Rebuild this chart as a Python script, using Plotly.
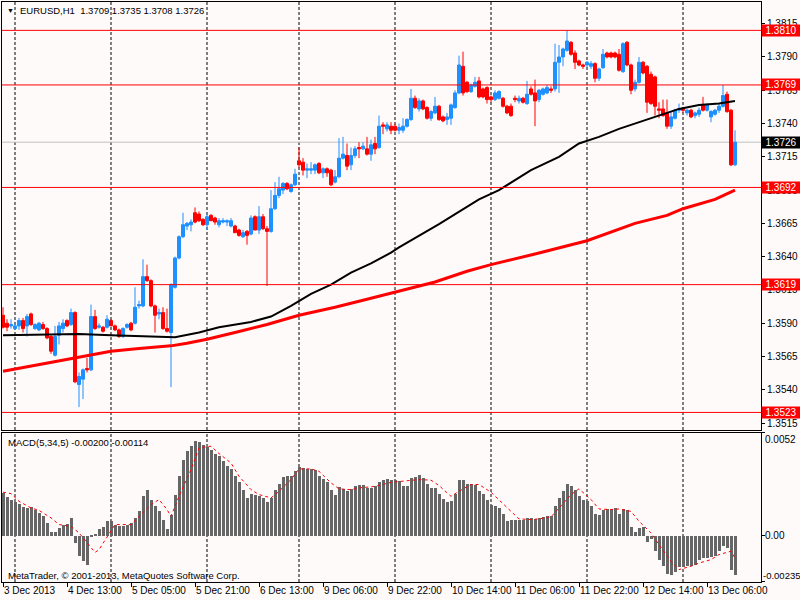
import plotly.graph_objects as go

# EURUSD H1, 3 Dec 2013 21:00 .. 13 Dec 2013 13:00 (bar index 0..183)
opens = [
    1.3596, 1.3590, 1.3588, 1.3586, 1.3588, 1.3592, 1.3588, 1.3597, 1.3586, 1.3585,
    1.3589, 1.3586, 1.3580, 1.3566, 1.3581, 1.3586, 1.3592, 1.3589, 1.3598, 1.3544,
    1.3548, 1.3556, 1.3555, 1.3595, 1.3587, 1.3587, 1.3587, 1.3592, 1.3588, 1.3585,
    1.3580, 1.3587, 1.3590, 1.3590, 1.3603, 1.3603, 1.3625, 1.3622, 1.3603, 1.3597,
    1.3598, 1.3586, 1.3583, 1.3617, 1.3639, 1.3655, 1.3663, 1.3664, 1.3673, 1.3672,
    1.3668, 1.3664, 1.3671, 1.3669, 1.3664, 1.3666, 1.3666, 1.3663, 1.3663, 1.3660,
    1.3655, 1.3659, 1.3657, 1.3670, 1.3660, 1.3670, 1.3661, 1.3659, 1.3676, 1.3686,
    1.3690, 1.3695, 1.3689, 1.3694, 1.3712, 1.3711, 1.3705, 1.3705, 1.3705, 1.3710,
    1.3703, 1.3706, 1.3705, 1.3696, 1.3700, 1.3714, 1.3716, 1.3709, 1.3716, 1.3722,
    1.3721, 1.3721, 1.3717, 1.3725, 1.3722, 1.3739, 1.3736, 1.3738, 1.3738, 1.3735,
    1.3735, 1.3738, 1.3743, 1.3759, 1.3751, 1.3757, 1.3752, 1.3744, 1.3748, 1.3753,
    1.3745, 1.3743, 1.3744, 1.3752, 1.3763, 1.3783, 1.3771, 1.3764, 1.3768, 1.3772,
    1.3766, 1.3767, 1.3760, 1.3758, 1.3759, 1.3759, 1.3753, 1.3753, 1.3759, 1.3757,
    1.3759, 1.3755, 1.3766, 1.3763, 1.3758, 1.3762, 1.3763, 1.3766, 1.3766, 1.3786,
    1.3790, 1.3795, 1.3801, 1.3793, 1.3787, 1.3784, 1.3784, 1.3783, 1.3785, 1.3774,
    1.3782, 1.3793, 1.3793, 1.3793, 1.3792, 1.3779, 1.3801, 1.3784, 1.3766, 1.3771,
    1.3786, 1.3783, 1.3777, 1.3775, 1.3751, 1.3751, 1.3748, 1.3738, 1.3744, 1.3750,
    1.3751, 1.3748, 1.3750, 1.3746, 1.3747, 1.3754, 1.3750, 1.3745, 1.3747, 1.3750,
    1.3753, 1.3762, 1.3750, 1.3709,
]
highs = [
    1.3602, 1.3593, 1.3593, 1.3590, 1.3594, 1.3594, 1.3597, 1.3598, 1.3590, 1.3591,
    1.3591, 1.3587, 1.3581, 1.3588, 1.3591, 1.3593, 1.3593, 1.3601, 1.3599, 1.3553,
    1.3556, 1.3564, 1.3604, 1.3600, 1.3590, 1.3588, 1.3596, 1.3593, 1.3589, 1.3586,
    1.3587, 1.3590, 1.3591, 1.3617, 1.3607, 1.3638, 1.3634, 1.3623, 1.3604, 1.3601,
    1.3602, 1.3601, 1.3620, 1.3640, 1.3656, 1.3673, 1.3666, 1.3668, 1.3677, 1.3674,
    1.3669, 1.3672, 1.3672, 1.3670, 1.3669, 1.3669, 1.3668, 1.3669, 1.3664, 1.3661,
    1.3660, 1.3660, 1.3671, 1.3671, 1.3678, 1.3672, 1.3663, 1.3690, 1.3696, 1.3700,
    1.3696, 1.3696, 1.3695, 1.3706, 1.3722, 1.3714, 1.3710, 1.3711, 1.3710, 1.3711,
    1.3707, 1.3707, 1.3706, 1.3705, 1.3729, 1.3730, 1.3725, 1.3722, 1.3723, 1.3726,
    1.3726, 1.3730, 1.3728, 1.3730, 1.3746, 1.3741, 1.3741, 1.3741, 1.3740, 1.3740,
    1.3744, 1.3744, 1.3766, 1.3761, 1.3759, 1.3758, 1.3753, 1.3750, 1.3760, 1.3754,
    1.3746, 1.3748, 1.3755, 1.3765, 1.3791, 1.3794, 1.3772, 1.3770, 1.3775, 1.3775,
    1.3767, 1.3768, 1.3761, 1.3765, 1.3765, 1.3760, 1.3754, 1.3755, 1.3761, 1.3761,
    1.3760, 1.3772, 1.3768, 1.3773, 1.3766, 1.3767, 1.3769, 1.3768, 1.3800, 1.3799,
    1.3797, 1.3810, 1.3802, 1.3795, 1.3788, 1.3785, 1.3787, 1.3787, 1.3786, 1.3782,
    1.3796, 1.3794, 1.3794, 1.3794, 1.3796, 1.3801, 1.3802, 1.3785, 1.3773, 1.3790,
    1.3787, 1.3784, 1.3779, 1.3776, 1.3756, 1.3758, 1.3758, 1.3749, 1.3751, 1.3755,
    1.3752, 1.3751, 1.3751, 1.3749, 1.3752, 1.3760, 1.3755, 1.3750, 1.3751, 1.3755,
    1.3769, 1.3764, 1.3751, 1.3735,
]
lows = [
    1.3586, 1.3584, 1.3586, 1.3585, 1.3585, 1.3583, 1.3580, 1.3588, 1.3585, 1.3584,
    1.3585, 1.3578, 1.3567, 1.3565, 1.3574, 1.3583, 1.3587, 1.3588, 1.3545, 1.3527,
    1.3533, 1.3553, 1.3554, 1.3585, 1.3586, 1.3583, 1.3586, 1.3588, 1.3584, 1.3579,
    1.3579, 1.3586, 1.3584, 1.3589, 1.3601, 1.3602, 1.3621, 1.3602, 1.3583, 1.3593,
    1.3585, 1.3583, 1.3542, 1.3616, 1.3638, 1.3654, 1.3660, 1.3659, 1.3665, 1.3666,
    1.3663, 1.3660, 1.3667, 1.3664, 1.3662, 1.3665, 1.3663, 1.3662, 1.3658, 1.3655,
    1.3654, 1.3649, 1.3656, 1.3660, 1.3657, 1.3660, 1.3618, 1.3658, 1.3675, 1.3684,
    1.3687, 1.3690, 1.3688, 1.3693, 1.3707, 1.3701, 1.3699, 1.3702, 1.3702, 1.3702,
    1.3699, 1.3700, 1.3693, 1.3695, 1.3699, 1.3713, 1.3705, 1.3705, 1.3714, 1.3714,
    1.3720, 1.3716, 1.3712, 1.3717, 1.3721, 1.3732, 1.3734, 1.3732, 1.3734, 1.3732,
    1.3733, 1.3737, 1.3742, 1.3751, 1.3749, 1.3750, 1.3743, 1.3742, 1.3747, 1.3742,
    1.3741, 1.3739, 1.3739, 1.3751, 1.3762, 1.3761, 1.3763, 1.3763, 1.3767, 1.3759,
    1.3759, 1.3755, 1.3756, 1.3757, 1.3758, 1.3752, 1.3747, 1.3745, 1.3756, 1.3755,
    1.3755, 1.3754, 1.3761, 1.3738, 1.3756, 1.3761, 1.3762, 1.3763, 1.3764, 1.3763,
    1.3783, 1.3794, 1.3791, 1.3781, 1.3783, 1.3781, 1.3782, 1.3781, 1.3771, 1.3772,
    1.3781, 1.3789, 1.3789, 1.3789, 1.3779, 1.3778, 1.3783, 1.3762, 1.3764, 1.3770,
    1.3777, 1.3748, 1.3754, 1.3746, 1.3744, 1.3745, 1.3736, 1.3736, 1.3743, 1.3748,
    1.3748, 1.3746, 1.3744, 1.3744, 1.3745, 1.3749, 1.3749, 1.3741, 1.3746, 1.3748,
    1.3752, 1.3748, 1.3708, 1.3708,
]
closes = [
    1.3587, 1.3587, 1.3589, 1.3588, 1.3592, 1.3586, 1.3595, 1.3589, 1.3589, 1.3590,
    1.3586, 1.3579, 1.3569, 1.3580, 1.3588, 1.3590, 1.3588, 1.3598, 1.3546, 1.3550,
    1.3555, 1.3555, 1.3595, 1.3586, 1.3588, 1.3584, 1.3593, 1.3588, 1.3585, 1.3580,
    1.3586, 1.3589, 1.3585, 1.3602, 1.3604, 1.3625, 1.3622, 1.3603, 1.3596, 1.3598,
    1.3586, 1.3584, 1.3619, 1.3639, 1.3655, 1.3664, 1.3665, 1.3666, 1.3666, 1.3667,
    1.3664, 1.3670, 1.3667, 1.3666, 1.3667, 1.3667, 1.3667, 1.3667, 1.3658, 1.3656,
    1.3658, 1.3656, 1.3669, 1.3660, 1.3670, 1.3661, 1.3659, 1.3676, 1.3686, 1.3691,
    1.3695, 1.3691, 1.3694, 1.3702, 1.3709, 1.3705, 1.3706, 1.3706, 1.3709, 1.3703,
    1.3706, 1.3703, 1.3694, 1.3700, 1.3714, 1.3717, 1.3708, 1.3716, 1.3721, 1.3721,
    1.3723, 1.3717, 1.3724, 1.3721, 1.3738, 1.3738, 1.3739, 1.3735, 1.3735, 1.3737,
    1.3738, 1.3743, 1.3759, 1.3752, 1.3757, 1.3751, 1.3744, 1.3749, 1.3753, 1.3743,
    1.3742, 1.3745, 1.3754, 1.3763, 1.3784, 1.3763, 1.3764, 1.3769, 1.3771, 1.3760,
    1.3760, 1.3758, 1.3758, 1.3763, 1.3764, 1.3753, 1.3748, 1.3746, 1.3758, 1.3759,
    1.3756, 1.3762, 1.3762, 1.3757, 1.3765, 1.3766, 1.3767, 1.3765, 1.3786, 1.3790,
    1.3796, 1.3802, 1.3792, 1.3786, 1.3784, 1.3783, 1.3786, 1.3785, 1.3774, 1.3781,
    1.3792, 1.3790, 1.3790, 1.3790, 1.3780, 1.3800, 1.3784, 1.3765, 1.3771, 1.3786,
    1.3778, 1.3756, 1.3755, 1.3753, 1.3750, 1.3746, 1.3738, 1.3745, 1.3750, 1.3751,
    1.3750, 1.3750, 1.3745, 1.3748, 1.3750, 1.3750, 1.3754, 1.3749, 1.3750, 1.3753,
    1.3761, 1.3749, 1.3709, 1.3726,
]

# moving averages, read at sample bars
ma_fast_bars = [0, 19, 27, 39, 43, 49, 54, 62, 67, 72, 77, 82, 87, 92, 97, 99, 109, 119,
                124, 132, 139, 144, 149, 154, 159, 164, 169, 174, 179, 183]
ma_fast = [1.3581, 1.3582, 1.3581, 1.3580, 1.35795, 1.3583, 1.3587, 1.3591, 1.3595, 1.3603,
           1.3612, 1.3619, 1.3628, 1.3635, 1.3643, 1.3647, 1.36645, 1.3683, 1.3690, 1.3705,
           1.3715, 1.3725, 1.3730, 1.3736, 1.3741, 1.3746, 1.3751, 1.3754, 1.3755, 1.3757]
ma_slow_bars = [0, 9, 19, 27, 34, 42, 46, 51, 58, 66, 74, 83, 91, 99, 108, 116, 122, 133,
                141, 146, 158, 166, 170, 178, 183]
ma_slow = [1.3554, 1.3559, 1.3565, 1.3569, 1.3571, 1.3573, 1.3575, 1.3578, 1.3583, 1.3589,
           1.3596, 1.3602, 1.3608, 1.3614, 1.3621, 1.3629, 1.3634, 1.3642, 1.3648, 1.3652,
           1.3665, 1.3671, 1.3676, 1.3683, 1.3690]

macd_hist = [
    0.00216, 0.00194, 0.00179, 0.00169, 0.00159, 0.00145, 0.00139, 0.00145, 0.00128, 0.00115,
    0.00098, 0.00064, 0.00020, 0.00020, 0.00039, 0.00056, 0.00061, 0.00090, -0.00037, -0.00105,
    -0.00130, -0.00147, -0.00007, 0.00005, 0.00035, 0.00042, 0.00073, 0.00073, 0.00056, 0.00047,
    0.00051, 0.00056, 0.00064, 0.00090, 0.00123, 0.00199, 0.00233, 0.00183, 0.00149, 0.00123,
    0.00081, 0.00034, 0.00106, 0.00208, 0.00304, 0.00385, 0.00428, 0.00456, 0.00482, 0.00473,
    0.00461, 0.00450, 0.00433, 0.00416, 0.00402, 0.00377, 0.00355, 0.00338, 0.00301, 0.00270,
    0.00233, 0.00191, 0.00211, 0.00208, 0.00199, 0.00191, 0.00169, 0.00191, 0.00230, 0.00264,
    0.00296, 0.00304, 0.00304, 0.00326, 0.00348, 0.00343, 0.00338, 0.00338, 0.00335, 0.00304,
    0.00287, 0.00270, 0.00230, 0.00208, 0.00247, 0.00237, 0.00225, 0.00237, 0.00254, 0.00259,
    0.00259, 0.00242, 0.00242, 0.00250, 0.00270, 0.00284, 0.00287, 0.00281, 0.00284, 0.00275,
    0.00254, 0.00250, 0.00292, 0.00296, 0.00309, 0.00292, 0.00264, 0.00242, 0.00242, 0.00213,
    0.00186, 0.00169, 0.00174, 0.00213, 0.00284, 0.00284, 0.00264, 0.00264, 0.00259, 0.00225,
    0.00213, 0.00183, 0.00157, 0.00152, 0.00140, 0.00112, 0.00073, 0.00078, 0.00078, 0.00078,
    0.00081, 0.00090, 0.00090, 0.00085, 0.00090, 0.00095, 0.00101, 0.00098, 0.00152, 0.00191,
    0.00225, 0.00264, 0.00254, 0.00230, 0.00203, 0.00183, 0.00174, 0.00152, 0.00112, 0.00106,
    0.00132, 0.00135, 0.00135, 0.00140, 0.00112, 0.00135, 0.00132, 0.00044, 0.00017, 0.00039,
    0.00044, -0.00034, -0.00017, -0.00079, -0.00122, -0.00152, -0.00193, -0.00201, -0.00186, -0.00159,
    -0.00159, -0.00155, -0.00152, -0.00147, -0.00122, -0.00113, -0.00113, -0.00108, -0.00101, -0.00079,
    -0.00054, -0.00063, -0.00172, -0.00200,
]
signal_bars = [0, 2, 4, 7, 9, 12, 14, 17, 19, 21, 23, 24, 26, 28, 32, 34, 37, 39, 41, 42,
               44, 47, 49, 52, 54, 57, 59, 62, 64, 67, 69, 72, 74, 77, 79, 82, 84, 87, 89, 92,
               94, 97, 99, 104, 107, 109, 112, 114, 117, 119, 122, 124, 127, 129, 132, 134, 137, 139,
               142, 144, 147, 149, 152, 154, 157, 159, 162, 164, 167, 169, 172, 174, 177, 179, 182, 183]
signal = [0.00220, 0.00213, 0.00174, 0.00140, 0.00128, 0.00090, 0.00056, 0.00047, 0.00014, -0.00037,
          -0.00085, -0.00071, -0.00007, 0.00056, 0.00056, 0.00095, 0.00157, 0.00183, 0.00132, 0.00098,
          0.00199, 0.00335, 0.00444, 0.00453, 0.00416, 0.00368, 0.00301, 0.00233, 0.00208, 0.00191,
          0.00225, 0.00284, 0.00338, 0.00338, 0.00326, 0.00267, 0.00237, 0.00233, 0.00242, 0.00247,
          0.00254, 0.00270, 0.00275, 0.00284, 0.00281, 0.00254, 0.00199, 0.00225, 0.00259, 0.00259,
          0.00220, 0.00183, 0.00123, 0.00085, 0.00081, 0.00085, 0.00095, 0.00140,
          0.00208, 0.00237, 0.00183, 0.00135, 0.00132, 0.00135, 0.00123, 0.00073, 0.00014, -0.00046,
          -0.00130, -0.00172, -0.00155, -0.00139, -0.00122, -0.00096, -0.00079, -0.00114]

level_prices = [1.3810, 1.3769, 1.3692, 1.3619, 1.3523]
bid_price = 1.3726
price_ticks = [1.3515, 1.3540, 1.3565, 1.3590, 1.3615, 1.3640, 1.3665,
               1.3690, 1.3715, 1.3740, 1.3765, 1.3790, 1.3815]
macd_labels = [0.0052, 0.0, -0.00235]
macd_label_text = ["0.0052", "0.00", "-0.00235"]
day_start_bars = [3, 27, 51, 74, 98, 122, 146, 170]
time_label_bars = [0, 16, 32, 48, 64, 80, 96, 112, 128, 144, 160, 176]
time_labels = ["3 Dec 2013", "4 Dec 13:00", "5 Dec 05:00", "5 Dec 21:00", "6 Dec 13:00",
               "9 Dec 06:00", "9 Dec 22:00", "10 Dec 14:00", "11 Dec 06:00", "11 Dec 22:00",
               "12 Dec 14:00", "13 Dec 06:00"]

BG = "#FFFAFA"
BULL = "#1E90FF"
BEAR = "#FF0000"
FONT = "Liberation Sans, Arial, sans-serif"
bars = list(range(len(opens)))

fig = go.Figure()
fig.add_trace(go.Candlestick(
    x=bars, open=opens, high=highs, low=lows, close=closes,
    increasing=dict(line=dict(color=BULL, width=1), fillcolor=BULL),
    decreasing=dict(line=dict(color=BEAR, width=1), fillcolor=BEAR),
    whiskerwidth=0, showlegend=False, hoverinfo="skip", xaxis="x", yaxis="y"))
fig.add_trace(go.Scatter(x=ma_slow_bars, y=ma_slow, mode="lines", line=dict(color="#FF0000", width=3),
                         showlegend=False, hoverinfo="skip", xaxis="x", yaxis="y"))
fig.add_trace(go.Scatter(x=ma_fast_bars, y=ma_fast, mode="lines", line=dict(color="#000000", width=2),
                         showlegend=False, hoverinfo="skip", xaxis="x", yaxis="y"))

fig.add_trace(go.Bar(x=bars, y=macd_hist, width=0.75, marker=dict(color="#666666", line=dict(width=0)),
                     showlegend=False, hoverinfo="skip", xaxis="x2", yaxis="y2"))
fig.add_trace(go.Scatter(x=signal_bars, y=signal, mode="lines", line=dict(color="#FF0000", width=1, dash="dot"),
                         showlegend=False, hoverinfo="skip", xaxis="x2", yaxis="y2"))

shapes = []
for b in day_start_bars:
    for xr, yr in [("x", "y domain"), ("x2", "y2 domain")]:
        shapes.append(dict(type="line", xref=xr, yref=yr, x0=b, x1=b, y0=0, y1=1, layer="below",
                           line=dict(color="black", width=1, dash="3px,2px")))
for p in level_prices:
    shapes.append(dict(type="line", xref="x domain", yref="y", x0=0, x1=1, y0=p, y1=p,
                       line=dict(color="#FF0000", width=1)))
shapes.append(dict(type="line", xref="x domain", yref="y", x0=0, x1=1, y0=bid_price, y1=bid_price,
                   layer="below", line=dict(color="#C0C0C0", width=1)))

annotations = []
for p in level_prices:
    annotations.append(dict(xref="paper", yref="y", x=1, y=p, xanchor="left", yanchor="middle", xshift=0,
                            text=f"{p:.4f}", showarrow=False, bgcolor="#FF0000", width=38, height=11,
                            borderpad=0, font=dict(family=FONT, size=10, color="white")))
annotations.append(dict(xref="paper", yref="y", x=1, y=bid_price, xanchor="left", yanchor="middle", xshift=0,
                        text=f"{bid_price:.4f}", showarrow=False, bgcolor="#000000", width=38, height=11,
                        borderpad=0, font=dict(family=FONT, size=10, color="white")))
for v, t in zip(macd_labels, macd_label_text):
    ya = "top" if v > 0 else ("bottom" if v < 0 else "middle")
    xs = 1 if v < 0 else 3
    annotations.append(dict(xref="paper", yref="y2", x=1, y=v, xanchor="left", yanchor=ya, xshift=xs,
                            text=t, showarrow=False, borderpad=0,
                            font=dict(family=FONT, size=9.5 if v < 0 else 10, color="black")))
for b, t in zip(time_label_bars, time_labels):
    annotations.append(dict(xref="x2", yref="paper", x=b, y=0, xanchor="left", yanchor="top", yshift=-2,
                            text=t, showarrow=False, borderpad=0,
                            font=dict(family=FONT, size=10, color="black")))

annotations.append(dict(xref="paper", yref="paper", x=0.004, y=0.9845, xanchor="left", yanchor="middle",
                        text="\u25bc", showarrow=False, font=dict(family=FONT, size=7, color="black")))
annotations.append(dict(xref="paper", yref="paper", x=0.0205, y=0.9845, xanchor="left", yanchor="middle",
                        text=f"EURUSD,H1\u00a0 {opens[-1]:.4f} {highs[-1]:.4f} {lows[-1]:.4f} {closes[-1]:.4f}",
                        showarrow=False, font=dict(family=FONT, size=9.5, color="black")))
annotations.append(dict(xref="paper", yref="paper", x=0.005, y=0.2397, xanchor="left", yanchor="middle",
                        text=f"MACD(5,34,5) {macd_hist[-1]:.5f} {signal[-1]:.5f}",
                        showarrow=False, font=dict(family=FONT, size=9.5, color="black")))
annotations.append(dict(xref="paper", yref="paper", x=0.005, y=0.012, xanchor="left", yanchor="middle",
                        text="MetaTrader, \u00a9 2001-2013, MetaQuotes Software Corp.",
                        showarrow=False, font=dict(family=FONT, size=9.5, color="black")))

axis_common = dict(showline=True, mirror=True, linecolor="black", linewidth=1, showgrid=False,
                   zeroline=False, fixedrange=True)
fig.update_layout(
    width=800, height=600,
    margin=dict(l=2, r=39, t=2, b=18),
    paper_bgcolor=BG, plot_bgcolor=BG,
    font=dict(family=FONT, size=10, color="black"),
    boxgap=0.25, boxgroupgap=0,
    bargap=0,
    showlegend=False,
    xaxis=dict(domain=[0, 1], anchor="y", range=[-0.25, 189.5], showticklabels=False, ticks="",
               rangeslider=dict(visible=False), **axis_common),
    yaxis=dict(domain=[0.26207, 1], anchor="x", side="right", range=[1.35098, 1.38313],
               tickvals=price_ticks, ticktext=[f"{v:.4f}" for v in price_ticks],
               ticks="outside", ticklen=3, tickcolor="black", **axis_common),
    xaxis2=dict(domain=[0, 1], anchor="y2", matches="x", range=[-0.25, 189.5], showticklabels=False,
                ticks="outside", ticklen=4, tickcolor="black", tickvals=time_label_bars, **axis_common),
    yaxis2=dict(domain=[0, 0.2569], anchor="x2", side="right", range=[-0.00235, 0.0052],
                tickvals=macd_labels, showticklabels=False, ticks="outside", ticklen=3, tickcolor="black",
                **axis_common),
    shapes=shapes,
    annotations=annotations,
)

# the page body has a default 8px margin; drop it so the chart sits at the window corner
fig.write_html("out.html", config={"displayModeBar": False},
               post_script="document.body.style.margin='0px';")
